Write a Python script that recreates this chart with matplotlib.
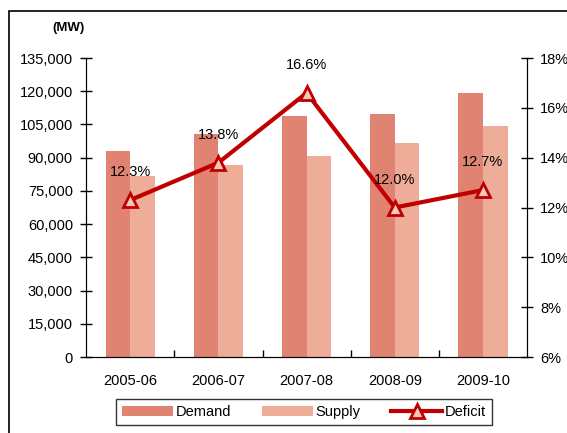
import numpy as np
import matplotlib
matplotlib.use("Agg")
import matplotlib.pyplot as plt
from matplotlib.patches import Rectangle
from matplotlib.ticker import FuncFormatter

plt.rcParams['font.family'] = ['Liberation Sans', 'DejaVu Sans']

years = ['2005-06', '2006-07', '2007-08', '2008-09', '2009-10']
demand = [93000, 100700, 108800, 109700, 119200]
supply = [81700, 86700, 90700, 96600, 104300]
deficit = [12.3, 13.8, 16.6, 12.0, 12.7]

demand_color = '#E08372'
supply_color = '#EEAD99'
line_color = '#C00000'

fig = plt.figure(figsize=(5.67, 4.33), dpi=100)
ax = fig.add_axes([0.152, 0.1755, 0.7775, 0.6905])

x = np.arange(len(years))
w = 0.28
ax.bar(x - w / 2, demand, width=w, color=demand_color, label='Demand')
ax.bar(x + w / 2, supply, width=w, color=supply_color, label='Supply')

ax.set_xlim(-0.5, len(years) - 0.5)
ax.set_ylim(0, 135000)
ax.set_yticks(np.arange(0, 135001, 15000))
ax.yaxis.set_major_formatter(FuncFormatter(lambda v, p: f'{int(v):,}'))
ax.set_xticks(x)
ax.set_xticklabels(years)
ax.set_xticks(np.arange(0.5, len(years) - 1, 1), minor=True)
ax.tick_params(axis='x', which='major', length=0, pad=12, labelsize=10.5)
ax.tick_params(axis='x', which='minor', direction='in', length=5, width=1)
ax.tick_params(axis='y', direction='inout', length=9, width=1, pad=5, labelsize=10.5)
ax.spines['top'].set_visible(False)

ax2 = ax.twinx()
ax2.plot(x, deficit, color=line_color, lw=3, marker='^', markersize=10,
         markerfacecolor='#F6C8BC', markeredgecolor=line_color, markeredgewidth=2,
         label='Deficit')
ax2.set_ylim(6, 18)
ax2.set_yticks(np.arange(6, 18.1, 2))
ax2.yaxis.set_major_formatter(FuncFormatter(lambda v, p: f'{int(v)}%'))
ax2.tick_params(axis='y', direction='inout', length=9, width=1, pad=5, labelsize=10.5)
ax2.spines['top'].set_visible(False)

for xi, d in zip(x, deficit):
    ax2.annotate(f'{d:.1f}%', (xi, d), xytext=(0, 20), textcoords='offset points',
                 ha='center', va='center', fontsize=10.5)

fig.text(0.12, 0.935, '(MW)', fontsize=9.5, fontweight='bold', ha='center', va='center')

h1, l1 = ax.get_legend_handles_labels()
h2, l2 = ax2.get_legend_handles_labels()
fig.legend(h1 + h2, l1 + l2, loc='center', bbox_to_anchor=(0.536, 0.049), ncol=3,
           frameon=True, fancybox=False, edgecolor='black', fontsize=10.5,
           handlelength=3.5, handletextpad=0.2, columnspacing=2.1,
           borderpad=0.4)

fig.patches.append(Rectangle((9 / 567, -0.05), 1.2, 1 - 11 / 433 + 0.05,
                             transform=fig.transFigure, fill=False,
                             edgecolor='black', lw=1.2))

fig.savefig('out.png', dpi=100)
